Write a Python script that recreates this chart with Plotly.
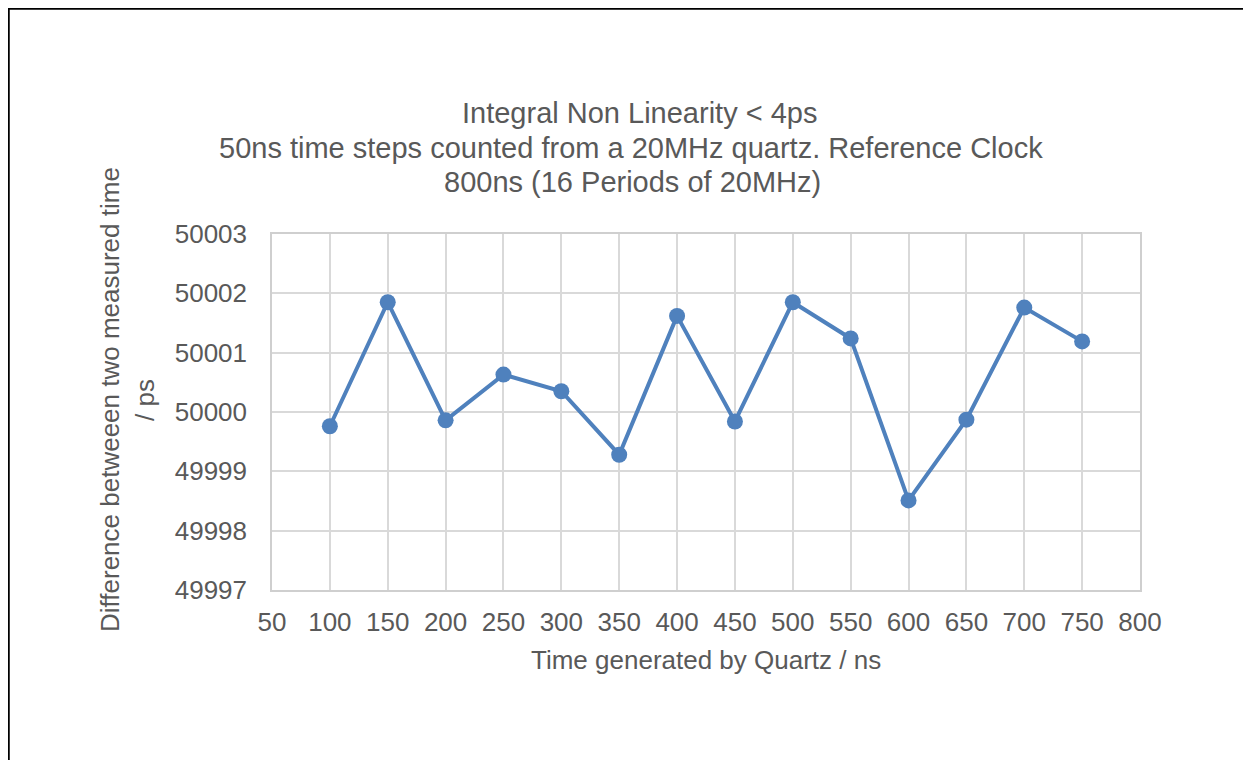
import plotly.graph_objects as go

time_ns = [100, 150, 200, 250, 300, 350, 400, 450, 500, 550, 600, 650, 700, 750]
diff_ps = [49999.76, 50001.85, 49999.86, 50000.63, 50000.35, 49999.28, 50001.62,
           49999.84, 50001.85, 50001.24, 49998.51, 49999.87, 50001.76, 50001.19]

x_ticks = [50, 100, 150, 200, 250, 300, 350, 400, 450, 500, 550, 600, 650, 700, 750, 800]
y_ticks = [49997, 49998, 49999, 50000, 50001, 50002, 50003]

title_lines = ["Integral Non Linearity < 4ps",
               "50ns time steps counted from a 20MHz quartz. Reference Clock",
               "800ns (16 Periods of 20MHz)"]
x_title = "Time generated by Quartz / ns"
y_title_lines = ["Difference betweeen two measured time", "/ ps"]

W, H = 1243, 752
L, R, T, B = 264, 1132, 226, 582
FONT = "Liberation Sans, Arial, sans-serif"
TXT = "#595959"
BLUE = "#4F81BD"

def px_x(px):
    return (px - L) / (R - L)

def px_y(py):
    return (B - py) / (B - T)

fig = go.Figure()
fig.add_trace(go.Scatter(
    x=time_ns, y=diff_ps, mode="lines+markers",
    line=dict(color=BLUE, width=4),
    marker=dict(color=BLUE, size=16),
    showlegend=False, cliponaxis=False,
))

fig.update_layout(
    width=W, height=H,
    margin=dict(l=L, r=W - R, t=T, b=H - B, pad=0),
    paper_bgcolor="white", plot_bgcolor="white",
    font=dict(family=FONT, color=TXT, size=26),
    xaxis=dict(range=[50, 800], tickvals=x_ticks, ticktext=[str(v) for v in x_ticks],
               showgrid=True, gridcolor="#d9d9d9", gridwidth=1.5,
               showline=True, linecolor="#cfcfcf", linewidth=1.5, mirror=True,
               zeroline=False, ticks="", ticklabelstandoff=8,
               tickfont=dict(size=26, color=TXT)),
    yaxis=dict(range=[49997, 50003], tickvals=y_ticks, ticktext=[str(v) for v in y_ticks],
               showgrid=True, gridcolor="#d9d9d9", gridwidth=1.5,
               showline=True, linecolor="#cfcfcf", linewidth=1.5, mirror=True,
               zeroline=False, ticks="", ticklabelstandoff=18,
               tickfont=dict(size=26, color=TXT)),
)

# Title (one annotation per line for exact spacing)
title_y = [105, 140, 174]
title_x = [631, 623, 624]
for txt, xx, yy in zip(title_lines, title_x, title_y):
    fig.add_annotation(text=txt, xref="paper", yref="paper",
                       x=px_x(xx), y=px_y(yy), xanchor="center", yanchor="middle",
                       showarrow=False, font=dict(size=29, color=TXT, family=FONT))
# X axis title
fig.add_annotation(text=x_title, xref="paper", yref="paper",
                   x=px_x(698), y=px_y(652), xanchor="center", yanchor="middle",
                   showarrow=False, font=dict(size=26, color=TXT, family=FONT))
# Y axis title (two lines)
for txt, xx in zip(y_title_lines, [102, 137]):
    fig.add_annotation(text=txt, xref="paper", yref="paper",
                       x=px_x(xx), y=px_y(392), xanchor="center", yanchor="middle",
                       showarrow=False, textangle=-90,
                       font=dict(size=26, color=TXT, family=FONT))

# Outer border
fig.add_shape(type="rect", xref="paper", yref="paper",
              x0=px_x(0.5), x1=px_x(1241.8), y0=px_y(800), y1=px_y(0.5),
              line=dict(color="black", width=2.5), fillcolor="rgba(0,0,0,0)",
              layer="above")

fig.write_html("out.html")
